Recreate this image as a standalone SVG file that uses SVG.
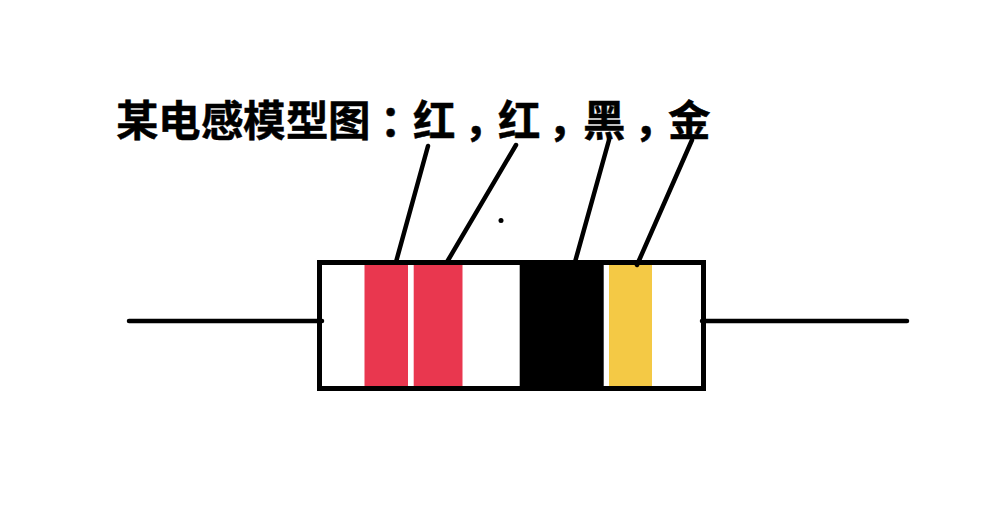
<svg xmlns="http://www.w3.org/2000/svg" width="1000" height="530" viewBox="0 0 1000 530">
<style>
.ln{stroke:#000;stroke-width:4.5;stroke-linecap:round;fill:none}
.t{font-family:"Noto Sans CJK SC","Noto Sans CJK TC",sans-serif;font-weight:700;font-size:42.5px;fill:#000;stroke:#000;stroke-width:.5}
</style>
<rect width="1000" height="530" fill="#fff"/>
<g id="label"><text class="t" y="136" x="116 158 201 243 286 328 380 413 464 498 548 583 634 668">某电感模型图：红，红，黑，金</text></g>
<g id="resistor-body">
<rect x="364.5" y="264" width="43.5" height="123" fill="#e9374f"/>
<rect x="413.7" y="264" width="48.8" height="123" fill="#e9374f"/>
<rect x="519.7" y="264" width="84" height="123" fill="#000"/>
<rect x="609" y="264" width="43" height="123" fill="#f4c945"/>
<rect x="319.5" y="262.5" width="384" height="126" fill="none" stroke="#000" stroke-width="5"/>
</g>
<g id="connectors">
<path class="ln" d="M129 321H322"/>
<path class="ln" d="M702 321H907"/>
<path class="ln" d="M428 146L396 262"/>
<path class="ln" d="M516 145L447 262"/>
<path class="ln" d="M609 140L575 262"/>
<path class="ln" d="M692 140L637 265"/>
</g>
<circle id="dot" cx="501" cy="220.5" r="2.5" fill="#000"/>
</svg>
